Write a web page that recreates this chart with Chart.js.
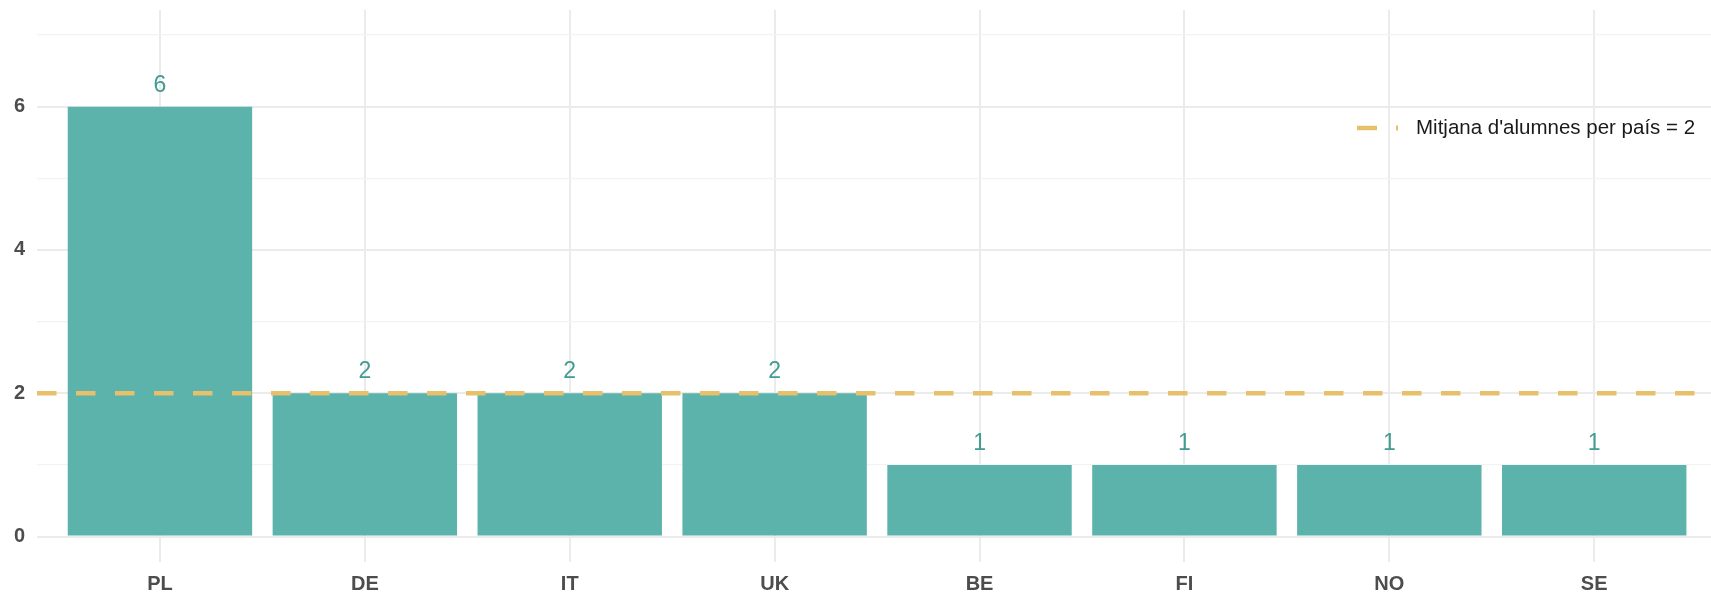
<!DOCTYPE html>
<html>
<head>
<meta charset="utf-8">
<title>Alumnes per país</title>
<script src="https://cdn.jsdelivr.net/npm/chart.js@4/dist/chart.umd.min.js"></script>
<style>
    html, body { margin: 0; padding: 0; background: #ffffff; }
    #wrap { width: 1711px; height: 595px; }
</style>
</head>
<body>
<div id="wrap"><canvas id="paisosChart" width="1711" height="595"></canvas></div>
<script>
var paisos = ['PL', 'DE', 'IT', 'UK', 'BE', 'FI', 'NO', 'SE'];
var alumnes = [6, 2, 2, 2, 1, 1, 1, 1];
var yTicks = [0, 1, 2, 3, 4, 5, 6, 7];
var yLabels = ['0', '', '2', '', '4', '', '6', ''];

var colorBarra = '#5bb3ab';
var colorEtiqueta = '#439c91';
var colorMitjana = '#e6c06a';
var colorGrid = '#ebebeb';
var colorGridMenor = '#f3f3f3';

var mitjana = 0;
for (var i = 0; i < alumnes.length; i++) mitjana += alumnes[i];
mitjana = mitjana / alumnes.length;

var etiquetesPlugin = {
    id: 'etiquetes',
    afterDatasetsDraw: function(chart) {
        var ctx = chart.ctx;
        var x = chart.scales.x;
        var y = chart.scales.y;
        var area = chart.chartArea;

        // valors sobre les barres
        ctx.save();
        ctx.fillStyle = colorEtiqueta;
        ctx.font = '23px "Liberation Sans", Arial, sans-serif';
        ctx.textAlign = 'center';
        ctx.textBaseline = 'middle';
        for (var i = 0; i < alumnes.length; i++) {
            ctx.fillText(String(alumnes[i]), x.getPixelForValue(i), y.getPixelForValue(alumnes[i] + 0.3));
        }
        ctx.restore();

        // línia de la mitjana
        var ym = y.getPixelForValue(mitjana);
        ctx.save();
        ctx.strokeStyle = colorMitjana;
        ctx.lineWidth = 4.5;
        ctx.setLineDash([19.5, 19.5]);
        ctx.beginPath();
        ctx.moveTo(area.left, ym);
        ctx.lineTo(area.right, ym);
        ctx.stroke();
        ctx.restore();

        // llegenda
        var ly = area.top + 118;
        var lx = area.right - 354;
        ctx.save();
        ctx.strokeStyle = colorMitjana;
        ctx.lineWidth = 4.5;
        ctx.beginPath();
        ctx.moveTo(lx, ly);
        ctx.lineTo(lx + 20, ly);
        ctx.stroke();
        ctx.fillStyle = colorMitjana;
        ctx.fillRect(lx + 39, ly - 2.5, 2, 5);
        ctx.fillStyle = '#1a1a1a';
        ctx.font = '20.5px "Liberation Sans", Arial, sans-serif';
        ctx.textAlign = 'left';
        ctx.textBaseline = 'middle';
        ctx.fillText("Mitjana d'alumnes per país = " + mitjana, lx + 59, ly);
        ctx.restore();
    }
};

var chart = new Chart(document.getElementById('paisosChart'), {
    type: 'bar',
    data: {
        datasets: [{
            label: 'Alumnes',
            data: alumnes.map(function(v, i) { return { x: i, y: v }; }),
            backgroundColor: colorBarra,
            borderWidth: 0,
            barPercentage: 0.9,
            categoryPercentage: 1.0
        }]
    },
    options: {
        responsive: false,
        animation: false,
        layout: { padding: { top: 10, right: 0, bottom: 0, left: 0 } },
        plugins: {
            legend: { display: false },
            tooltip: { enabled: false }
        },
        scales: {
            x: {
                type: 'linear',
                offset: false,
                min: -0.6,
                max: 7.57,
                afterBuildTicks: function(axis) {
                    axis.ticks = paisos.map(function(p, i) { return { value: i }; });
                },
                afterFit: function(axis) {
                    axis.height = 33.4;
                    axis.paddingLeft = 0;
                    axis.paddingRight = 0;
                },
                ticks: {
                    autoSkip: false,
                    maxRotation: 0,
                    padding: 11,
                    color: '#4d4d4d',
                    font: { family: '"Liberation Sans", Arial, sans-serif', size: 20, weight: 'bold' },
                    callback: function(v) { return paisos[v]; }
                },
                grid: { color: colorGrid, lineWidth: 2, drawTicks: false, offset: false },
                border: { display: false }
            },
            y: {
                min: -0.35,
                max: 7.35,
                afterBuildTicks: function(axis) {
                    axis.ticks = yTicks.map(function(t) { return { value: t }; });
                },
                afterFit: function(axis) {
                    axis.width = 37;
                    axis.paddingTop = 0;
                    axis.paddingBottom = 0;
                },
                ticks: {
                    padding: 12,
                    color: '#4d4d4d',
                    font: { family: '"Liberation Sans", Arial, sans-serif', size: 20, weight: 'bold' },
                    callback: function(v) { return yLabels[yTicks.indexOf(v)]; }
                },
                grid: {
                    drawTicks: false,
                    color: function(c) { return c.tick && c.tick.value % 2 === 0 ? colorGrid : colorGridMenor; },
                    lineWidth: function(c) { return c.tick && c.tick.value % 2 === 0 ? 2 : 1.2; }
                },
                border: { display: false }
            }
        }
    },
    plugins: [etiquetesPlugin]
});
</script>
</body>
</html>
